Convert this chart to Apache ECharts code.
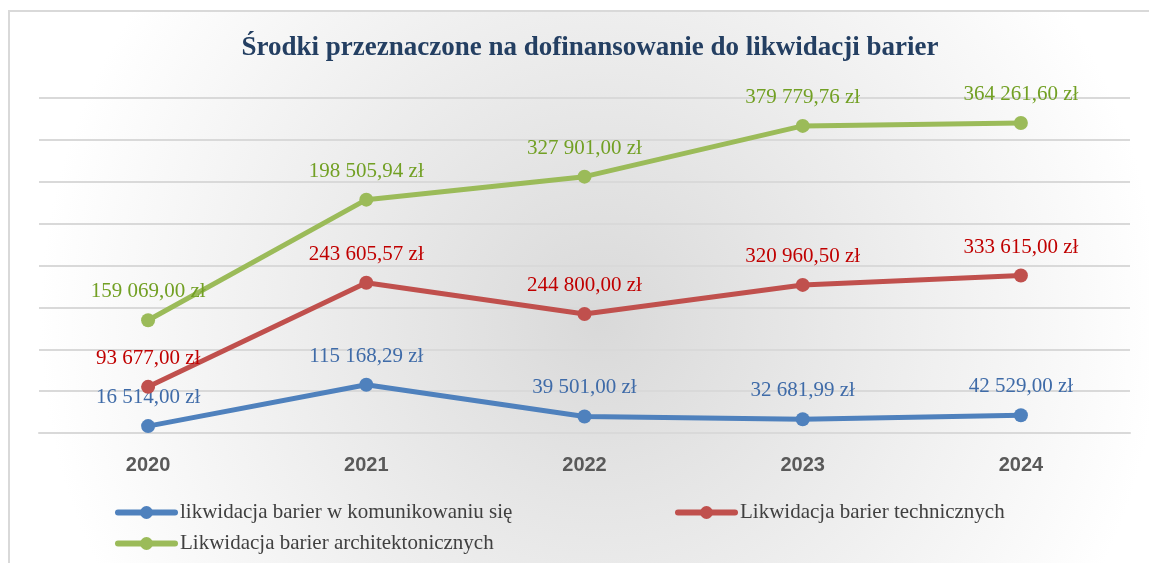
<!DOCTYPE html>
<html>
<head>
<meta charset="utf-8">
<script src="https://cdn.jsdelivr.net/npm/echarts@6/dist/echarts.min.js"></script>
<style>
  html, body { margin: 0; padding: 0; background: #ffffff; }
  #chart { width: 1149px; height: 563px; }
</style>
</head>
<body>
<div id="chart"></div>
<script>
// Years on the category axis
const years = ['2020', '2021', '2022', '2023', '2024'];

// Amounts per year (PLN), stacked on top of each other
const komunikowanie = [16514.00, 115168.29, 39501.00, 32681.99, 42529.00];
const techniczne = [93677.00, 243605.57, 244800.00, 320960.50, 333615.00];
const architektoniczne = [159069.00, 198505.94, 327901.00, 379779.76, 364261.60];

const seriesNames = [
  'likwidacja barier w komunikowaniu się',
  'Likwidacja barier technicznych',
  'Likwidacja barier architektonicznych'
];

const lineColors = ['#4f81bd', '#c0504d', '#9bbb59'];
const labelColors = ['#3f6ba8', '#c00000', '#72a024'];

// Polish currency format: "159 069,00 zł"
function formatPln(v) {
  const parts = v.toFixed(2).split('.');
  const intPart = parts[0].replace(/\B(?=(\d{3})+(?!\d))/g, ' ');
  return intPart + ',' + parts[1] + ' zł';
}

const chart = echarts.init(document.getElementById('chart'));

const dataSets = [komunikowanie, techniczne, architektoniczne];

const series = dataSets.map((data, i) => ({
  name: seriesNames[i],
  type: 'line',
  stack: 'razem',
  data: data,
  symbol: 'circle',
  symbolSize: 14,
  lineStyle: { width: 5, color: lineColors[i], cap: 'round', join: 'round' },
  itemStyle: { color: lineColors[i] },
  label: {
    show: true,
    position: 'top',
    distance: 11,
    color: labelColors[i],
    fontFamily: '"Liberation Serif", "Times New Roman", serif',
    fontSize: 21,
    formatter: p => formatPln(p.value)
  },
  emphasis: { disabled: true },
  z: 3 + i
}));

const legendText = {
  color: '#404040',
  fontFamily: '"Liberation Serif", "Times New Roman", serif',
  fontSize: 21
};
const legendPos = [
  { left: 115, top: 502 },
  { left: 675, top: 502 },
  { left: 115, top: 533 }
];

chart.setOption({
  animation: false,
  graphic: [
    {
      type: 'rect',
      z: -10,
      silent: true,
      shape: { x: 9, y: 11, width: 1160, height: 580 },
      style: {
        fill: {
          type: 'radial', x: 600, y: 320, r: 560, global: true,
          colorStops: [
            { offset: 0, color: '#d9d9d9' },
            { offset: 1, color: '#ffffff' }
          ]
        },
        stroke: '#d9d9d9',
        lineWidth: 2
      }
    }
  ],
  title: {
    text: 'Środki przeznaczone na dofinansowanie do likwidacji barier',
    left: 585,
    textAlign: 'center',
    top: 30,
    textStyle: {
      color: '#243f62',
      fontFamily: '"Liberation Serif", "Times New Roman", serif',
      fontWeight: 'bold',
      fontSize: 27
    }
  },
  legend: seriesNames.map((name, i) => ({
    data: [name],
    left: legendPos[i].left,
    top: legendPos[i].top,
    padding: 0,
    itemWidth: 57,
    itemHeight: 16,
    itemGap: 0,
    selectedMode: false,
    lineStyle: { width: 6, cap: 'round' },
    textStyle: legendText
  })),
  grid: { left: 39, right: 19, top: 98, bottom: 130, containLabel: false },
  xAxis: {
    type: 'category',
    data: years,
    boundaryGap: true,
    axisLine: { show: true, lineStyle: { color: '#d9d9d9', width: 2 } },
    axisTick: { show: false },
    axisLabel: {
      color: '#595959',
      fontFamily: '"Liberation Sans", Arial, sans-serif',
      fontWeight: 'bold',
      fontSize: 20,
      margin: 22
    }
  },
  yAxis: {
    type: 'value',
    min: 0,
    max: 800000,
    interval: 100000,
    axisLabel: { show: false },
    axisLine: { show: false },
    axisTick: { show: false },
    splitLine: { lineStyle: { color: '#d9d9d9', width: 2 } }
  },
  series: series
});
</script>
</body>
</html>
